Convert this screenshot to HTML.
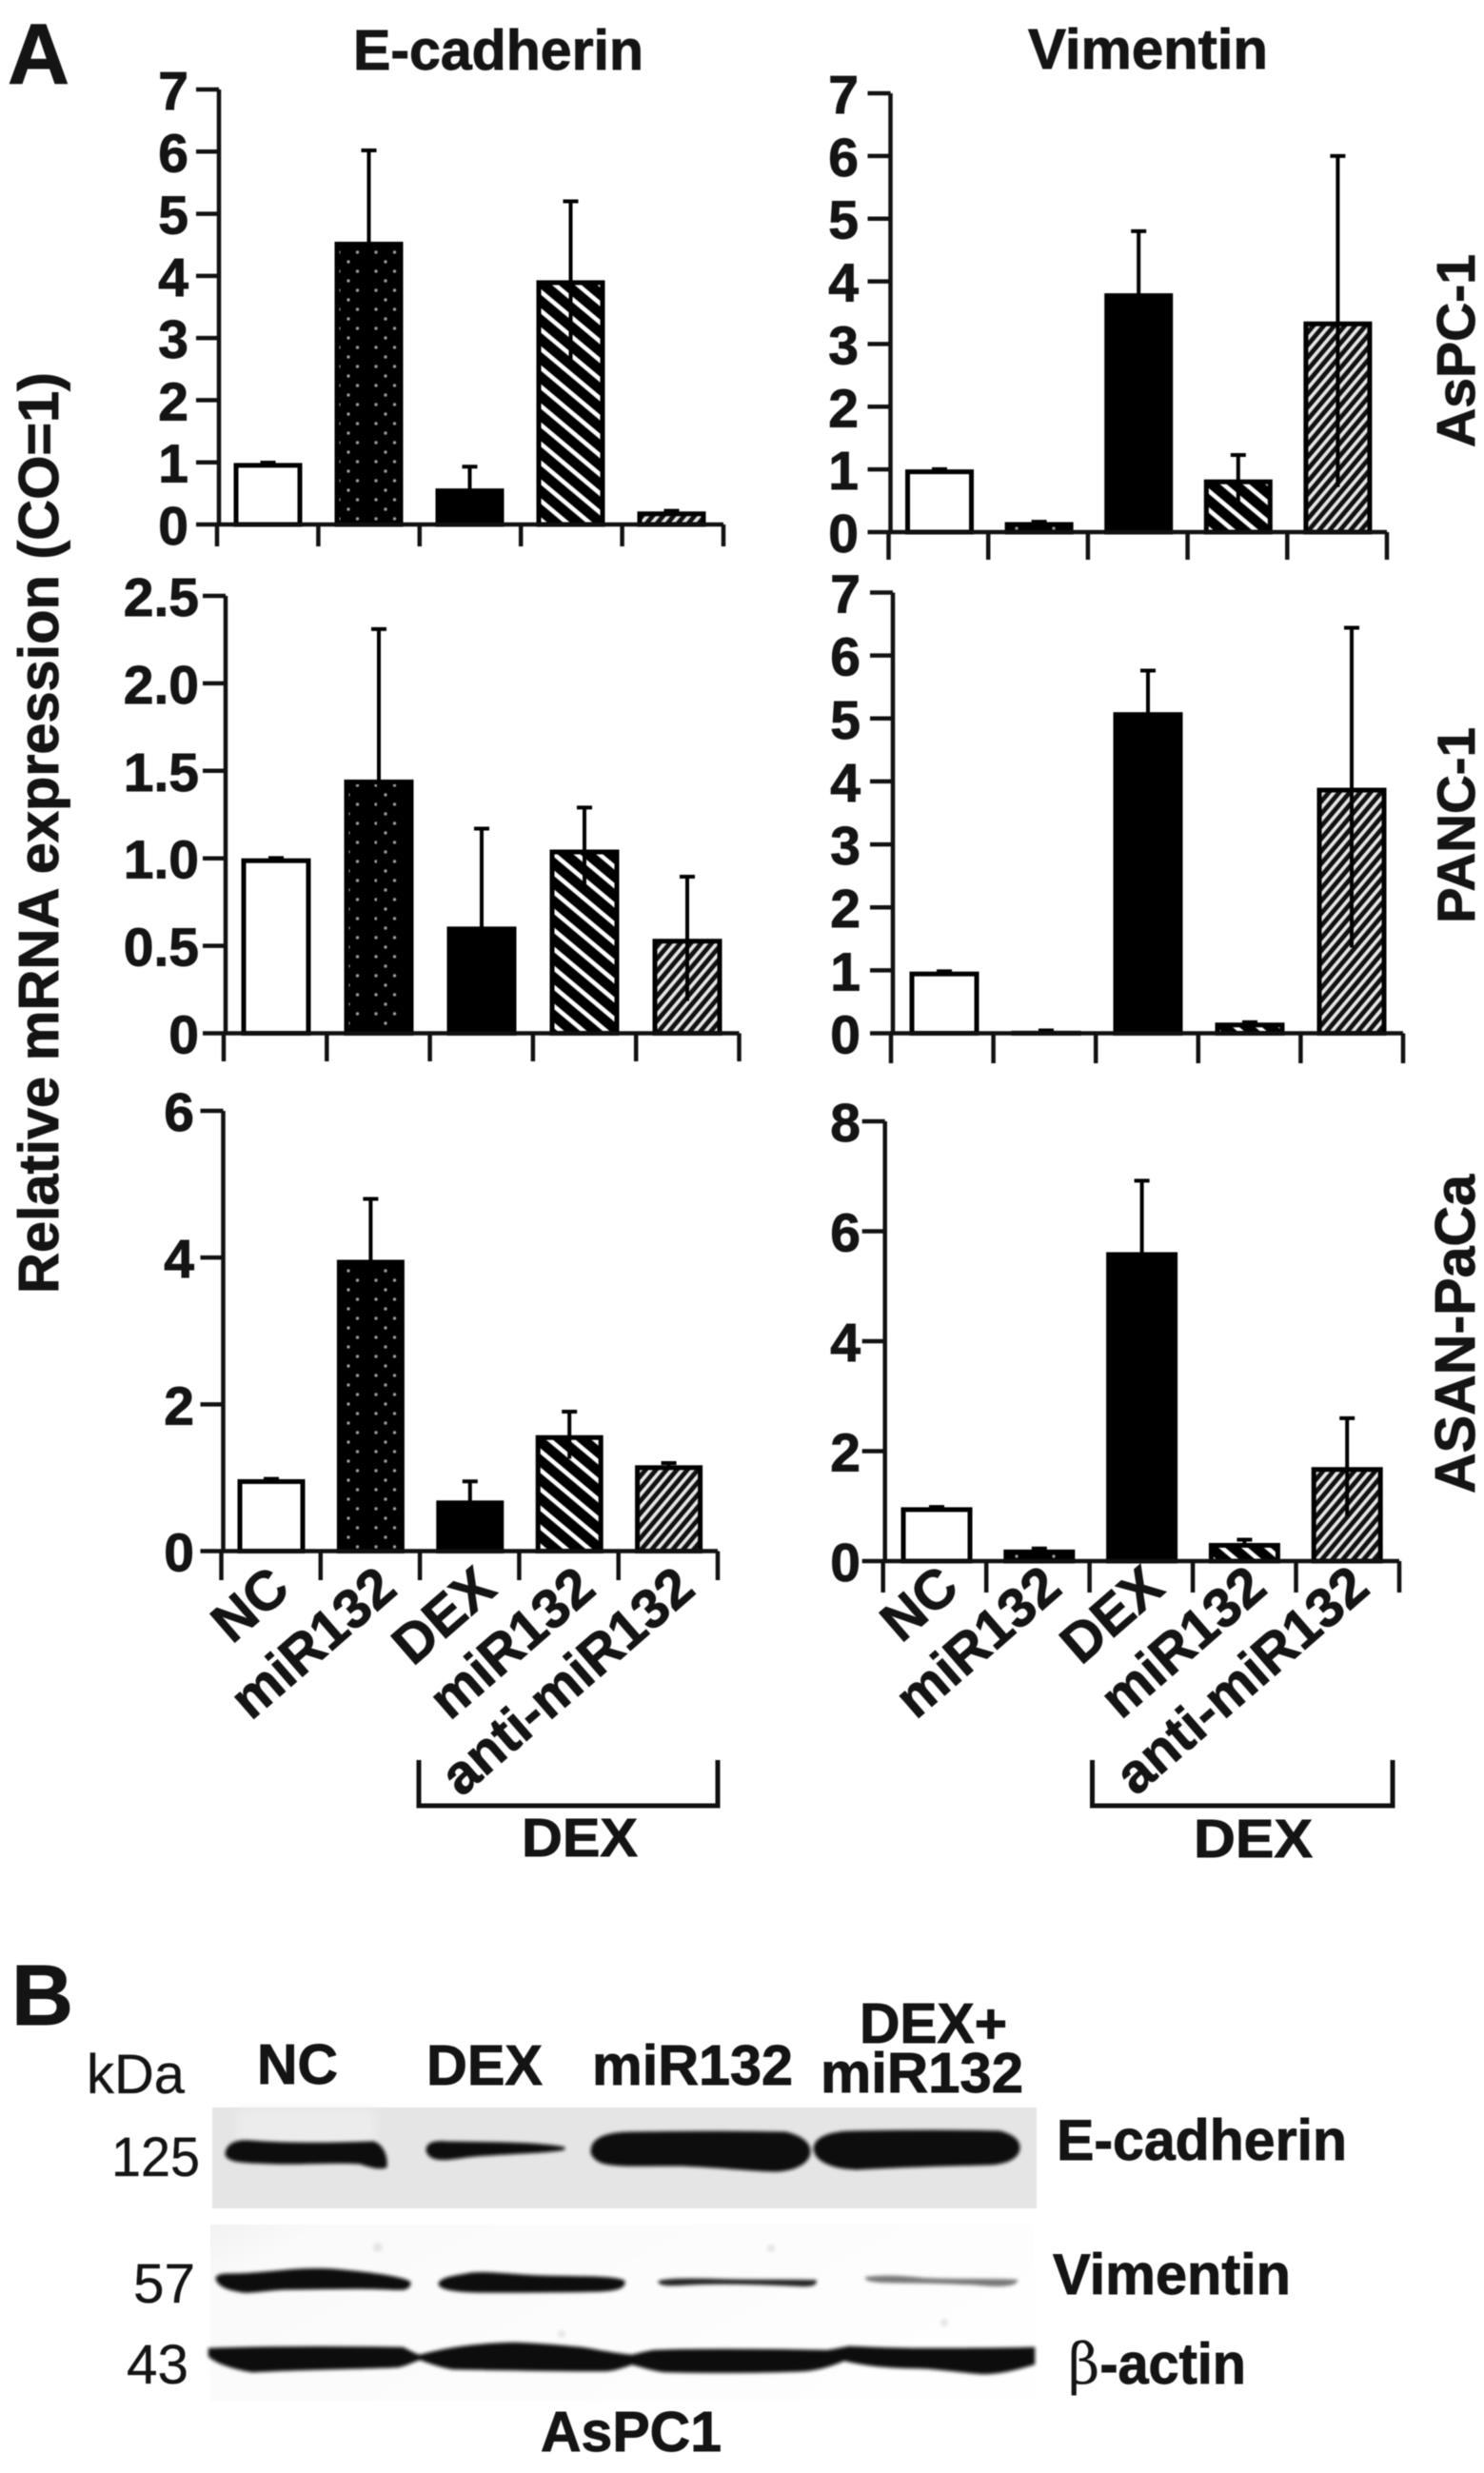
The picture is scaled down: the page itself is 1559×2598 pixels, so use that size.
<!DOCTYPE html>
<html lang="en">
<head>
<meta charset="utf-8">
<title>E-cadherin and Vimentin expression</title>
<style>
html,body{margin:0;padding:0;background:#fff;}
svg{display:block;filter:blur(0.6px);}
text{font-family:"Liberation Sans",sans-serif;font-weight:700;fill:#141414;stroke:#141414;stroke-width:0.9px;}
text.reg{font-weight:400;stroke-width:0.3px;}
</style>
</head>
<body>
<svg id="figure" xmlns="http://www.w3.org/2000/svg" width="1559" height="2598" viewBox="0 0 1559 2598">
<defs>
<pattern id="dots" patternUnits="userSpaceOnUse" width="39" height="20">
<rect width="39" height="20" fill="#000"/>
<circle cx="5" cy="5" r="1.7" fill="#9a9a9a"/>
<circle cx="24.5" cy="5" r="1.7" fill="#9a9a9a"/>
<circle cx="15" cy="15" r="1.7" fill="#9a9a9a"/>
</pattern>
<pattern id="hatchWide" patternUnits="userSpaceOnUse" width="15.3" height="15.3" patternTransform="rotate(40)">
<rect width="15.3" height="15.3" fill="#000"/>
<rect y="5" width="15.3" height="4.6" fill="#fff"/>
</pattern>
<pattern id="hatchFine" patternUnits="userSpaceOnUse" width="8.4" height="8.4" patternTransform="rotate(-50)">
<rect width="8.4" height="8.4" fill="#111"/>
<rect y="2.5" width="8.4" height="3.6" fill="#e6e6e6"/>
</pattern>
<filter id="bandBlur" x="-10%" y="-40%" width="120%" height="180%"><feGaussianBlur stdDeviation="1.8"/></filter>
<filter id="softBlur" x="-10%" y="-40%" width="120%" height="180%"><feGaussianBlur stdDeviation="5"/></filter>
<linearGradient id="blotLower" x1="0" y1="0" x2="1" y2="0.4">
<stop offset="0" stop-color="#f2f2f2"/><stop offset="0.12" stop-color="#fafafa"/><stop offset="1" stop-color="#fefefe"/>
</linearGradient>
</defs>

<text x="8" y="88" font-size="90">A</text>
<text x="371" y="73" font-size="59" textLength="305" lengthAdjust="spacingAndGlyphs">E-cadherin</text>
<text x="1080" y="72" font-size="59" textLength="252" lengthAdjust="spacingAndGlyphs">Vimentin</text>
<text transform="translate(61 1359) rotate(-90)" font-size="59" textLength="968" lengthAdjust="spacingAndGlyphs">Relative mRNA expression (CO=1)</text>
<text transform="translate(1549 470) rotate(-90)" font-size="57" textLength="203" lengthAdjust="spacingAndGlyphs">AsPC-1</text>
<text transform="translate(1549 970) rotate(-90)" font-size="56" textLength="206" lengthAdjust="spacingAndGlyphs">PANC-1</text>
<text transform="translate(1549 1569) rotate(-90)" font-size="59" textLength="335" lengthAdjust="spacingAndGlyphs">ASAN-PaCa</text>

<g id="charts"></g>

<path d="M440 1849V1897H754V1849" fill="none" stroke="#111" stroke-width="5"/>
<text x="548" y="1950" font-size="57" textLength="122" lengthAdjust="spacingAndGlyphs">DEX</text>
<path d="M1147.5 1849V1897H1463V1849" fill="none" stroke="#111" stroke-width="5"/>
<text x="1254" y="1951" font-size="57" textLength="125" lengthAdjust="spacingAndGlyphs">DEX</text>

<text x="12" y="2127" font-size="90">B</text>
<text class="reg" x="91" y="2199" font-size="58" textLength="103" lengthAdjust="spacingAndGlyphs">kDa</text>
<text x="270" y="2189" font-size="59" textLength="85" lengthAdjust="spacingAndGlyphs">NC</text>
<text x="448" y="2190" font-size="59" textLength="122" lengthAdjust="spacingAndGlyphs">DEX</text>
<text x="622" y="2190" font-size="59" textLength="211" lengthAdjust="spacingAndGlyphs">miR132</text>
<text x="903" y="2146" font-size="59" textLength="155" lengthAdjust="spacingAndGlyphs">DEX+</text>
<text x="862" y="2198" font-size="59" textLength="213" lengthAdjust="spacingAndGlyphs">miR132</text>

<g>
<rect x="223" y="2214" width="866" height="106" fill="#e5e5e5"/>
<rect x="250" y="2216" width="145" height="40" fill="#ececec" filter="url(#softBlur)"/>
<g fill="#101010" stroke="#101010" stroke-width="3" filter="url(#bandBlur)">
<path d="M238 2263C239 2252 250 2249 262 2250C300 2253 340 2253 392 2251C402 2254 406 2266 405 2276C398 2278 390 2276 378 2272C350 2270 320 2273 290 2272C265 2271 240 2272 238 2263Z"/>
<path d="M449 2259C449 2252 456 2250 470 2251C510 2252 560 2251 593 2257C575 2261 530 2261 490 2265C470 2268 452 2271 449 2259Z"/>
<path d="M622 2260C622 2246 640 2241 665 2241C720 2240 780 2240 825 2241C842 2245 850 2252 850 2260C850 2270 838 2279 815 2280C780 2279 750 2275 710 2274C680 2274 640 2276 630 2270C625 2267 622 2264 622 2260Z"/>
<path d="M856 2257C857 2245 875 2240 900 2240C950 2239 1010 2239 1050 2240C1065 2244 1070 2250 1070 2256C1070 2265 1060 2272 1040 2273C1000 2274 950 2275 900 2278C875 2277 857 2270 856 2257Z"/>
</g>
</g>

<g>
<rect x="221" y="2337" width="865" height="185" fill="url(#blotLower)"/>
<g fill="#bbb" opacity="0.35" filter="url(#bandBlur)">
<circle cx="397" cy="2361" r="5"/><circle cx="992" cy="2440" r="4"/><circle cx="590" cy="2452" r="4"/><circle cx="810" cy="2362" r="4"/>
</g>
<g filter="url(#bandBlur)">
<path fill="#101010" stroke="#101010" stroke-width="3" d="M228 2393C232 2388 245 2391 265 2389C295 2387 320 2383 350 2385C385 2388 420 2392 430 2398C430 2404 425 2405 410 2404C380 2402 340 2404 300 2404C275 2405 262 2409 250 2406C238 2404 229 2400 228 2393Z"/>
<path fill="#101010" stroke="#101010" stroke-width="3" d="M462 2399C465 2393 480 2392 495 2389C515 2387 535 2391 570 2392C610 2393 645 2392 655 2397C656 2402 650 2405 630 2406C590 2407 540 2407 510 2407C485 2407 462 2405 462 2399Z"/>
<path fill="#222" stroke="#222" stroke-width="1.5" d="M692 2397C698 2394 730 2394 760 2395C800 2396 840 2395 857 2396C858 2401 850 2402 835 2401C790 2399 750 2398 720 2400C705 2401 693 2401 692 2397Z"/>
<path fill="#777" stroke="#777" stroke-width="2" d="M910 2393C925 2391 945 2391 970 2394C1010 2396 1050 2394 1068 2396C1066 2401 1050 2402 1030 2400C990 2397 950 2398 925 2397C915 2396 910 2395 910 2393Z"/>
<path fill="#0e0e0e" stroke="#0e0e0e" stroke-width="2.5" d="M220 2468C280 2466 360 2466 423 2467C430 2470 435 2474 441 2475C460 2470 490 2463 540 2462C570 2463 590 2465 611 2467C630 2470 650 2474 664 2475C672 2473 680 2471 687 2470C740 2468 810 2469 869 2470C878 2469 885 2467 892 2466C920 2467 940 2468 963 2468C1000 2468 1050 2468 1086 2467L1086 2483C1070 2488 1050 2493 1033 2493C1010 2492 985 2487 963 2487C945 2487 935 2486 922 2485C905 2483 895 2481 887 2479C875 2484 860 2489 845 2490C800 2492 740 2492 699 2491C685 2490 673 2485 664 2483C655 2486 645 2490 634 2490C590 2490 530 2489 476 2488C462 2486 450 2481 441 2478C432 2481 425 2485 417 2486C370 2488 320 2488 265 2491C245 2488 228 2482 220 2475Z"/>
</g>
</g>

<text class="reg" x="117" y="2286" font-size="58" textLength="93" lengthAdjust="spacingAndGlyphs">125</text>
<text class="reg" x="140" y="2419" font-size="58" textLength="65" lengthAdjust="spacingAndGlyphs">57</text>
<text class="reg" x="133" y="2504" font-size="58" textLength="65" lengthAdjust="spacingAndGlyphs">43</text>
<text x="1110" y="2269" font-size="60" textLength="305" lengthAdjust="spacingAndGlyphs">E-cadherin</text>
<text x="1106" y="2410" font-size="60" textLength="250" lengthAdjust="spacingAndGlyphs">Vimentin</text>
<text x="1122" y="2504" font-size="60" textLength="187" lengthAdjust="spacingAndGlyphs"><tspan style="font-weight:400;stroke-width:0;font-family:'DejaVu Serif','Liberation Serif',serif">β</tspan>-actin</text>
<text x="568" y="2575" font-size="59" textLength="190" lengthAdjust="spacingAndGlyphs">AsPC1</text>
</svg>

<script>
const categories = ['NC', 'miR132', 'DEX', 'miR132', 'anti-miR132'];

const tickValues7 = [0, 1, 2, 3, 4, 5, 6, 7];
const tickLabels7 = ['0', '1', '2', '3', '4', '5', '6', '7'];
const tickValuesPanc = [0, 0.5, 1, 1.5, 2, 2.5];
const tickLabelsPanc = ['0', '0.5', '1.0', '1.5', '2.0', '2.5'];
const tickValuesAsanE = [0, 2, 4, 6];
const tickLabelsAsanE = ['0', '2', '4', '6'];
const tickValuesAsanV = [0, 2, 4, 6, 8];
const tickLabelsAsanV = ['0', '2', '4', '6', '8'];

const ecadAspcValues = [0.99, 4.55, 0.58, 3.93, 0.21];
const ecadAspcErrors = [0.005, 1.47, 0.35, 1.27, 0.01];
const vimAspcValues = [1.0, 0.16, 3.81, 0.84, 3.36];
const vimAspcErrors = [0.005, 0.005, 0.99, 0.39, 2.64];
const ecadPancValues = [1.0, 1.45, 0.61, 1.05, 0.54];
const ecadPancErrors = [0.002, 0.86, 0.56, 0.24, 0.355];
const vimPancValues = [0.98, 0.04, 5.1, 0.17, 3.9];
const vimPancErrors = [0.005, 0.005, 0.66, 0.005, 2.54];
const ecadAsanValues = [0.98, 3.97, 0.69, 1.58, 1.17];
const ecadAsanErrors = [0.005, 0.83, 0.26, 0.32, 0.03];
const vimAsanValues = [0.98, 0.21, 5.62, 0.33, 1.71];
const vimAsanErrors = [0.005, 0.02, 1.3, 0.06, 0.89];

const SVG_NS = 'http://www.w3.org/2000/svg';
const chartsRoot = document.getElementById('charts');
const categoryFills = ['#fff', 'url(#dots)', '#000', 'url(#hatchWide)', 'url(#hatchFine)'];

const panelA1 = {id:'ecadherin-aspc', values:ecadAspcValues, errors:ecadAspcErrors, ticks:tickValues7, labels:tickLabels7, max:7, axL:230, axR:760, c0:281.5, step:106, w:72, y0:551, yTop:94, tb:574, lbl:198, showCats:false};
const panelA2 = {id:'vimentin-aspc', values:vimAspcValues, errors:vimAspcErrors, ticks:tickValues7, labels:tickLabels7, max:7, axL:935.5, axR:1457, c0:987, step:104.6, w:72, y0:559, yTop:98, tb:588, lbl:902, showCats:false};
const panelB1 = {id:'ecadherin-panc', values:ecadPancValues, errors:ecadPancErrors, ticks:tickValuesPanc, labels:tickLabelsPanc, max:2.5, axL:237, axR:776.5, c0:290, step:108, w:73, y0:1085.5, yTop:626, tb:1115, lbl:209, showCats:false};
const panelB2 = {id:'vimentin-panc', values:vimPancValues, errors:vimPancErrors, ticks:tickValues7, labels:tickLabels7, max:7, axL:938, axR:1474, c0:992, step:107, w:73, y0:1085.5, yTop:622.5, tb:1117, lbl:904, showCats:false};
const panelC1 = {id:'ecadherin-asan', values:ecadAsanValues, errors:ecadAsanErrors, ticks:tickValuesAsanE, labels:tickLabelsAsanE, max:6, axL:234.5, axR:754, c0:285, step:104.4, w:71, y0:1629.5, yTop:1167, tb:1660, lbl:204, showCats:true, catDx:30, catY:1673, firstShift:-8};
const panelC2 = {id:'vimentin-asan', values:vimAsanValues, errors:vimAsanErrors, ticks:tickValuesAsanV, labels:tickLabelsAsanV, max:8, axL:929.7, axR:1470, c0:984, step:107.8, w:75, y0:1640, yTop:1178, tb:1673, lbl:904, showCats:true, catDx:26, catY:1672, firstShift:0};

function make(tag, attrs, parent) {
  const el = document.createElementNS(SVG_NS, tag);
  for (const k in attrs) el.setAttribute(k, attrs[k]);
  parent.appendChild(el);
  return el;
}

function drawPanel(p) {
  const xScale = i => p.c0 + i * p.step;
  const yScale = v => p.y0 - (v / p.max) * (p.y0 - p.yTop);
  const g = make('g', {}, chartsRoot);
  
  

  p.values.forEach((v, i) => {
    const bw = 5;
    const top = yScale(v);
    const bar = make('rect', {
      x: xScale(i) - p.w / 2 + bw / 2,
      y: top + bw / 2,
      width: p.w - bw,
      height: Math.max(0, p.y0 - top - bw / 2),
      fill: categoryFills[i],
      stroke: '#000',
      'stroke-width': bw
    }, g);
    
    

    const hi = yScale(v + p.errors[i]);
    const lo = yScale(Math.max(0, v - p.errors[i]));
    const err = make('path', {
      d: 'M' + xScale(i) + ' ' + lo + 'V' + hi + 'M' + (xScale(i) - 8) + ' ' + hi + 'H' + (xScale(i) + 8),
      fill: 'none',
      stroke: '#000',
      'stroke-width': 4
    }, g);
    
    
  });

  const axisLines = make('path', {
    d: 'M' + p.axL + ' ' + p.yTop + 'V' + p.y0 + 'H' + p.axR,
    fill: 'none',
    stroke: '#111',
    'stroke-width': 4.5
  }, g);
  
  

  p.ticks.forEach((t, i) => {
    const y = yScale(t);
    const tick = make('line', {x1: p.axL - 24, x2: p.axL, y1: y, y2: y, stroke: '#111', 'stroke-width': 4.5}, g);
    
    
    const label = make('text', {x: p.lbl, y: y + 21, 'font-size': 57, 'text-anchor': 'end'}, g);
    label.textContent = p.labels[i];
    
    
  });

  for (let i = 0; i <= categories.length; i++) {
    const x = p.axL - 2 + i * (p.axR - p.axL + 2) / categories.length;
    const tick = make('line', {x1: x, x2: x, y1: p.y0, y2: p.tb, stroke: '#111', 'stroke-width': 4.5}, g);
    
    
  }

  if (p.showCats) {
    categories.forEach((c, i) => {
      const x = xScale(i) + p.catDx + (i === 0 ? p.firstShift : 0);
      const label = make('text', {
        transform: 'translate(' + x + ' ' + p.catY + ') rotate(-41)',
        'font-size': 58,
        'text-anchor': 'end'
      }, g);
      label.textContent = c;
      
      
    });
  }
}

[panelA1, panelA2, panelB1, panelB2, panelC1, panelC2].forEach(drawPanel);
</script>
</body>
</html>
